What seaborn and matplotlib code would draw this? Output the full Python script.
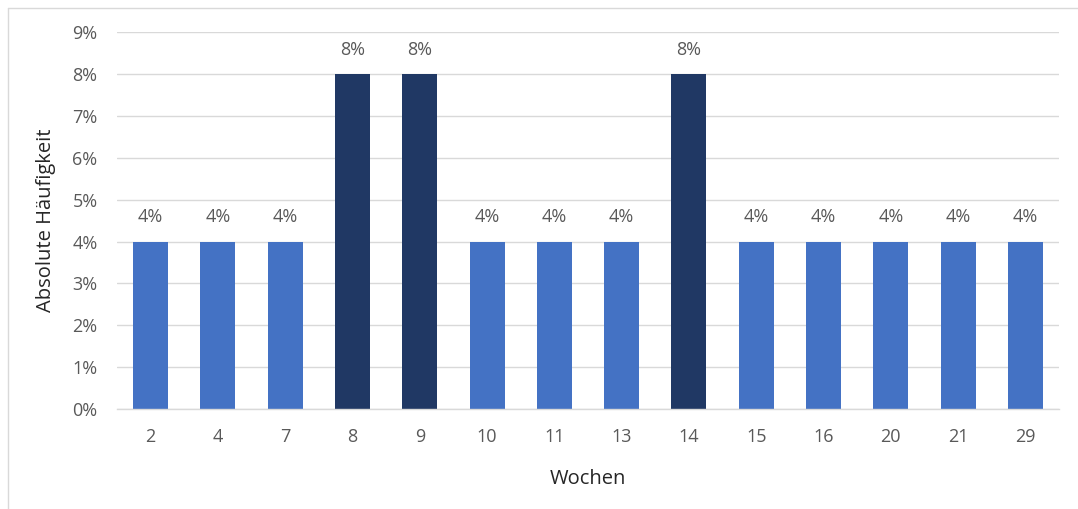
import matplotlib
matplotlib.use("Agg")
import matplotlib.pyplot as plt
from matplotlib.ticker import PercentFormatter, MultipleLocator
import seaborn as sns
import pandas as pd

# Weeks and relative frequency (percent)
wochen = ["2", "4", "7", "8", "9", "10", "11", "13", "14", "15", "16", "20", "21", "29"]
haeufigkeit = [4, 4, 4, 8, 8, 4, 4, 4, 8, 4, 4, 4, 4, 4]

df = pd.DataFrame({"Wochen": wochen, "Haeufigkeit": haeufigkeit})

light = "#4472C4"
dark = "#203864"
top = max(haeufigkeit)
palette = {w: (dark if v == top else light) for w, v in zip(wochen, haeufigkeit)}

sns.set_theme(style="white")
plt.rcParams["font.family"] = ["Open Sans", "DejaVu Sans"]
text_col = "#595959"

fig = plt.figure(figsize=(10.78, 5.09), dpi=100)
ax = fig.add_axes([117 / 1078, 1 - 409 / 509, (1059 - 117) / 1078, (409 - 32.3) / 509])

sns.barplot(data=df, x="Wochen", y="Haeufigkeit", hue="Wochen", palette=palette,
            order=wochen, hue_order=wochen, legend=False, width=0.52,
            saturation=1, linewidth=0, ax=ax, zorder=3)

ax.set_ylim(0, 9)
ax.set_xlim(-0.5, len(wochen) - 0.5)
ax.yaxis.set_major_locator(MultipleLocator(1))
ax.yaxis.set_major_formatter(PercentFormatter(decimals=0))
ax.grid(axis="y", color="#D9D9D9", linewidth=1, zorder=0)
for s in ["top", "right", "left"]:
    ax.spines[s].set_visible(False)
ax.spines["bottom"].set_color("#D9D9D9")
ax.spines["bottom"].set_linewidth(1)
ax.spines["bottom"].set_zorder(4)

ax.tick_params(axis="both", length=0, labelsize=13, colors=text_col)
ax.tick_params(axis="x", pad=14)
ax.tick_params(axis="y", pad=14)

for c in ax.containers:
    ax.bar_label(c, labels=[f"{v:.0f}%" for v in c.datavalues], padding=11,
                 fontsize=13, color=text_col)

ax.set_xlabel("Wochen", fontsize=14.5, color="#262626", labelpad=16)
ax.set_ylabel("Absolute Häufigkeit", fontsize=14.5, color="#262626", labelpad=12)

# Light frame around the chart area
frame_left = 8 / 1078
frame_top = 1 - 8 / 509
fig.add_artist(plt.Line2D([frame_left, frame_left], [0, frame_top], color="#D9D9D9",
                          linewidth=1, transform=fig.transFigure))
fig.add_artist(plt.Line2D([frame_left, 1], [frame_top, frame_top], color="#D9D9D9",
                          linewidth=1, transform=fig.transFigure))

fig.savefig("out.png", dpi=100, facecolor="white")
